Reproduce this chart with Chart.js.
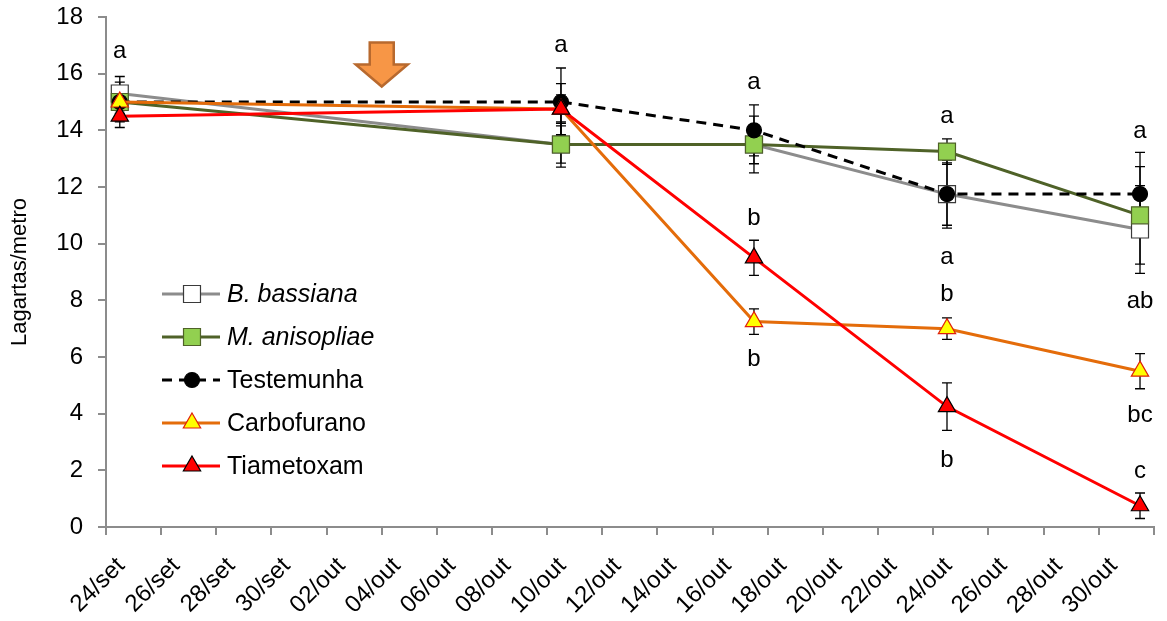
<!DOCTYPE html>
<html>
<head>
<meta charset="utf-8">
<script src="https://cdn.jsdelivr.net/npm/chart.js@4.4.1/dist/chart.umd.min.js"></script>
<style>
  body { margin: 0; background: #fff; }
  #wrap { width: 1167px; height: 621px; position: relative; }
</style>
</head>
<body>
<div id="wrap"><canvas id="chart"></canvas></div>
<script>
// sampling dates and values (lagartas por metro)
const startDate = '24/set';
const endDate = '01/nov';
const sampleDates = ['24/set', '10/out', '17/out', '24/out', '31/out'];

const bassiana = [15.3, 13.5, 13.5, 11.75, 10.5];
const bassianaErr = [0.6, 0.8, 1.0, 1.2, 1.55];
const anisopliae = [15.0, 13.5, 13.5, 13.25, 11.0];
const anisopliaeErr = [0.4, 0.66, 0.68, 0.45, 1.72];
const testemunha = [15.0, 15.0, 14.0, 11.75, 11.75];
const testemunhaErr = [0.7, 1.2, 0.9, 1.1, 1.47];
const carbofurano = [15.0, 14.75, 7.25, 7.0, 5.5];
const carbofuranoErr = [0.5, 0.5, 0.45, 0.38, 0.62];
const tiametoxam = [14.5, 14.75, 9.5, 4.25, 0.75];
const tiametoxamErr = [0.4, 0.9, 0.62, 0.84, 0.45];

const yMin = 0, yMax = 18, yStep = 2;
const xStepDays = 2;

// significance letters: date, height (y value), text
const letterDates = ['24/set', '10/out', '17/out', '17/out', '17/out', '24/out', '24/out', '24/out', '24/out', '31/out', '31/out', '31/out', '31/out'];
const letterY = [16.8, 17.0, 15.7, 10.9, 5.9, 14.5, 9.5, 8.2, 2.35, 13.95, 7.95, 3.95, 1.95];
const letterText = ['a', 'a', 'a', 'b', 'b', 'a', 'a', 'b', 'b', 'a', 'ab', 'bc', 'c'];

// application marker
const arrowDate = '04/out';
const arrowTopY = 17.1;

const monthIdx = { set: 8, out: 9, nov: 10 };
const monthName = ['jan', 'fev', 'mar', 'abr', 'mai', 'jun', 'jul', 'ago', 'set', 'out', 'nov', 'dez'];
const toDate = s => {
    const [d, m] = s.split('/');
    return Date.UTC(2013, monthIdx[m], +d);
};
const dayOf = s => (toDate(s) - toDate(startDate)) / 86400000;
const totalDays = dayOf(endDate);
// points sit in the middle of their day (date axis, between tick marks)
const xOf = s => dayOf(s) + 0.5;
const fmtDay = v => {
    const dt = new Date(toDate(startDate) + v * 86400000);
    return String(dt.getUTCDate()).padStart(2, '0') + '/' + monthName[dt.getUTCMonth()];
};

const FONT = "'Liberation Sans', Arial, sans-serif";

const series = [
    { label: 'B. bassiana', italic: true, values: bassiana, err: bassianaErr,
      line: '#8C8C8C', fill: '#FFFFFF', edge: '#3A3A3A', style: 'rect', radius: 12, dash: [] },
    { label: 'M. anisopliae', italic: true, values: anisopliae, err: anisopliaeErr,
      line: '#4F6228', fill: '#92D050', edge: '#4F6228', style: 'rect', radius: 12, dash: [] },
    { label: 'Testemunha', italic: false, values: testemunha, err: testemunhaErr,
      line: '#000000', fill: '#000000', edge: '#000000', style: 'circle', radius: 7.5, dash: [10, 7] },
    { label: 'Carbofurano', italic: false, values: carbofurano, err: carbofuranoErr,
      line: '#E46C0A', fill: '#FFFF00', edge: '#E0200A', style: 'triangle', radius: 10, dash: [] },
    { label: 'Tiametoxam', italic: false, values: tiametoxam, err: tiametoxamErr,
      line: '#FF0000', fill: '#FF0000', edge: '#000000', style: 'triangle', radius: 10, dash: [] }
];

const datasets = series.map((s, i) => ({
    label: s.label,
    data: sampleDates.map((d, j) => ({ x: xOf(d), y: s.values[j] })),
    borderColor: s.line,
    borderWidth: 3,
    borderDash: s.dash,
    backgroundColor: s.fill,
    pointStyle: s.style,
    pointRadius: s.radius,
    pointBackgroundColor: s.fill,
    pointBorderColor: s.edge,
    pointBorderWidth: 1.2,
    tension: 0,
    order: series.length - i
}));

const errorBars = {
    id: 'errorBars',
    beforeDatasetsDraw(chart) {
        const { ctx, scales: { y } } = chart;
        ctx.save();
        ctx.strokeStyle = '#000';
        ctx.lineWidth = 1.3;
        series.forEach((s, i) => {
            chart.getDatasetMeta(i).data.forEach((pt, j) => {
                const top = y.getPixelForValue(s.values[j] + s.err[j]);
                const bot = y.getPixelForValue(s.values[j] - s.err[j]);
                ctx.beginPath();
                ctx.moveTo(pt.x, top); ctx.lineTo(pt.x, bot);
                ctx.moveTo(pt.x - 5, top); ctx.lineTo(pt.x + 5, top);
                ctx.moveTo(pt.x - 5, bot); ctx.lineTo(pt.x + 5, bot);
                ctx.stroke();
            });
        });
        ctx.restore();
    }
};

const annotations = {
    id: 'annotations',
    afterDraw(chart) {
        const { ctx, chartArea, scales: { x, y } } = chart;
        ctx.save();
        // letters
        ctx.fillStyle = '#000';
        ctx.font = '24px ' + FONT;
        ctx.textAlign = 'center';
        ctx.textBaseline = 'middle';
        letterText.forEach((t, i) => {
            ctx.fillText(t, x.getPixelForValue(xOf(letterDates[i])), y.getPixelForValue(letterY[i]));
        });

        // arrow
        const ax = x.getPixelForValue(dayOf(arrowDate));
        const at = y.getPixelForValue(arrowTopY);
        const stemW = 12, headW = 26, stemH = 22, headH = 22;
        ctx.beginPath();
        ctx.moveTo(ax - stemW, at);
        ctx.lineTo(ax + stemW, at);
        ctx.lineTo(ax + stemW, at + stemH);
        ctx.lineTo(ax + headW, at + stemH);
        ctx.lineTo(ax, at + stemH + headH);
        ctx.lineTo(ax - headW, at + stemH);
        ctx.lineTo(ax - stemW, at + stemH);
        ctx.closePath();
        ctx.fillStyle = '#F79646';
        ctx.fill();
        ctx.strokeStyle = '#B8692E';
        ctx.lineWidth = 2.5;
        ctx.stroke();

        // legend
        const lx = chartArea.left + 56;
        let ly = 294;
        series.forEach((s, i) => {
            ctx.save();
            ctx.strokeStyle = s.line;
            ctx.lineWidth = 3;
            ctx.setLineDash(s.dash);
            ctx.beginPath();
            ctx.moveTo(lx, ly); ctx.lineTo(lx + 58, ly);
            ctx.stroke();
            ctx.restore();
            ctx.fillStyle = s.fill;
            ctx.strokeStyle = s.edge;
            ctx.lineWidth = 1.2;
            Chart.helpers.drawPoint(ctx, { pointStyle: s.style, radius: s.radius, rotation: 0, borderWidth: 1.2 }, lx + 30, ly);
            ctx.fillStyle = '#000';
            ctx.textAlign = 'left';
            ctx.font = (s.italic ? 'italic ' : '') + '25px ' + FONT;
            ctx.fillText(s.label, lx + 65, ly + 1);
            ly += 43;
        });
        ctx.restore();
    }
};

new Chart(document.getElementById('chart'), {
    type: 'line',
    data: { datasets },
    plugins: [errorBars, annotations],
    options: {
        responsive: true,
        maintainAspectRatio: false,
        animation: false,
        layout: { padding: { top: 17, right: 7, left: 0, bottom: 0 } },
        plugins: { legend: { display: false }, tooltip: { enabled: false } },
        scales: {
            x: {
                type: 'linear',
                min: 0,
                max: totalDays,
                afterFit: s => { s.height = 94; s.paddingLeft = 0; s.paddingRight = 0; },
                afterBuildTicks: s => {
                    const t = [];
                    for (let v = 0; v <= totalDays; v += xStepDays) t.push({ value: v });
                    s.ticks = t;
                },
                ticks: {
                    color: '#000',
                    font: { family: FONT, size: 24 },
                    minRotation: 45,
                    maxRotation: 45,
                    padding: 17,
                    labelOffset: 15,
                    autoSkip: false,
                    callback: v => (v >= totalDays ? '' : fmtDay(v))
                },
                grid: { drawOnChartArea: false, color: '#8C8C8C', lineWidth: 2, tickLength: 8 },
                border: { color: '#8C8C8C', width: 2 }
            },
            y: {
                min: yMin,
                max: yMax,
                afterFit: s => { s.width = 106; s.paddingTop = 0; s.paddingBottom = 0; },
                ticks: {
                    stepSize: yStep,
                    color: '#000',
                    font: { family: FONT, size: 24 },
                    padding: 15
                },
                title: {
                    display: true,
                    text: 'Lagartas/metro',
                    color: '#000',
                    font: { family: FONT, size: 22 },
                    padding: { top: 7, bottom: 0 }
                },
                grid: { drawOnChartArea: false, color: '#8C8C8C', lineWidth: 2, tickLength: 8 },
                border: { color: '#8C8C8C', width: 2 }
            }
        }
    }
});
</script>
</body>
</html>
